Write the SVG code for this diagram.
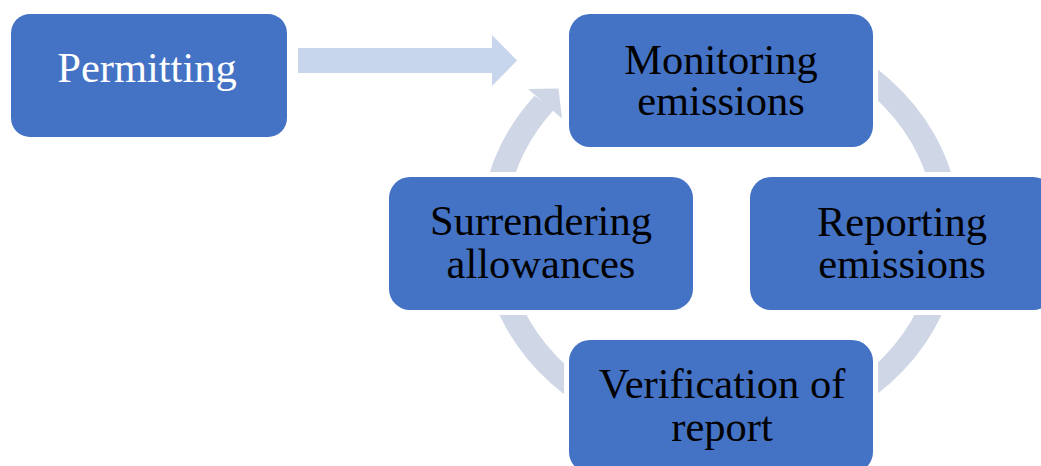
<svg xmlns="http://www.w3.org/2000/svg" width="1041" height="466" viewBox="0 0 1041 466">
  <style>
    .box { fill: #4472C4; }
    .cyc { fill: #4472C4; stroke: #FFFFFF; stroke-width: 10; paint-order: stroke; }
    .lbl { font-family: "Liberation Serif", "Times New Roman", serif; font-size: 42.5px; text-anchor: middle; fill: #000000; }
    .lblw { fill: #FFFFFF; }
    .arc { fill: none; stroke: #CFD6E6; stroke-width: 25; stroke-linecap: butt; }
  </style>
  <rect width="1041" height="466" fill="#FFFFFF"/>

  <g id="connectors">
    <polygon points="298,48 492,48 492,35 517,60.5 492,86 492,73 298,73" fill="#C7D5ED"/>
    <g transform="translate(720.5,231.5) scale(1,0.895)">
      <path class="arc" d="M -213.8 77.8 A 227.5 227.5 0 0 1 -176.3 -143.8"/>
      <path class="arc" d="M 39.5 -224.0 A 227.5 227.5 0 0 1 224.0 -39.5"/>
      <path class="arc" d="M 224.0 39.5 A 227.5 227.5 0 0 1 39.5 224.0"/>
      <path class="arc" d="M -39.5 224.0 A 227.5 227.5 0 0 1 -224.0 39.5"/>
    </g>
    <polygon points="528,89 558.5,88.5 562,118.5" fill="#CFD6E6"/>
  </g>

  <g id="permitting">
    <rect class="box" x="11" y="14" width="276" height="123" rx="19" ry="19"/>
    <text class="lbl lblw" x="147" y="82">Permitting</text>
  </g>

  <g id="monitoring">
    <rect class="cyc" x="569" y="14" width="304" height="133" rx="21" ry="21"/>
    <text class="lbl" x="721" y="73.5">Monitoring</text>
    <text class="lbl" x="721" y="115">emissions</text>
  </g>

  <g id="reporting">
    <rect class="cyc" x="750" y="177" width="304" height="133" rx="21" ry="21"/>
    <text class="lbl" x="902" y="235.5">Reporting</text>
    <text class="lbl" x="902" y="277.5">emissions</text>
  </g>

  <g id="verification">
    <rect class="cyc" x="569" y="340" width="304" height="133" rx="21" ry="21"/>
    <text class="lbl" x="722" y="398">Verification of</text>
    <text class="lbl" x="722" y="441">report</text>
  </g>

  <g id="surrendering">
    <rect class="cyc" x="389" y="177" width="304" height="133" rx="21" ry="21"/>
    <text class="lbl" x="541" y="235">Surrendering</text>
    <text class="lbl" x="541" y="277.5">allowances</text>
  </g>
</svg>
